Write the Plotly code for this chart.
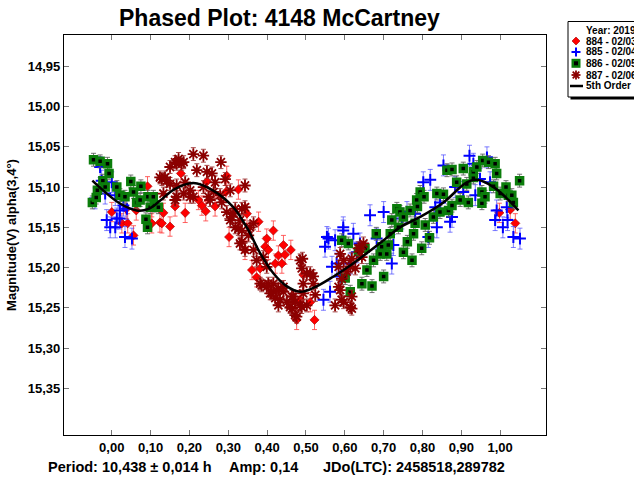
import plotly.graph_objects as go

# ---------------- data ----------------
phase_884 = [0.000, 0.026, 0.037, 0.041, 0.056, 0.063, 0.092, 0.103, 0.103, 0.124, 0.129, 0.133,
             0.150, 0.163, 0.178, 0.189, 0.223, 0.232, 0.242, 0.245, 0.266, 0.296, 0.294, 0.302,
             0.326, 0.343, 0.348, 0.361, 0.373, 0.378, 0.382, 0.395, 0.399, 0.403, 0.416, 0.421,
             0.429, 0.438, 0.442, 0.446, 0.461, 0.476, 0.485, 0.493, 0.511, 0.522, 0.998, 1.026, 1.039]
mag_884 = [15.131, 15.145, 15.127, 15.145, 15.160, 15.129, 15.099, 15.125, 15.145, 15.144, 15.145, 15.132,
           15.149, 15.124, 15.083, 15.132, 15.116, 15.123, 15.130, 15.093, 15.124, 15.086, 15.106, 15.162,
           15.103, 15.178, 15.133, 15.203, 15.212, 15.143, 15.201, 15.174, 15.164, 15.178, 15.154, 15.195,
           15.185, 15.195, 15.172, 15.184, 15.178, 15.265, 15.240, 15.209, 15.243, 15.265, 15.132, 15.128, 15.145]

phase_885 = [-0.043, -0.030, -0.026, -0.017, -0.013, -0.004, 0.000, 0.009, 0.009, 0.013, 0.020, 0.021,
             0.030, 0.034, 0.039, 0.052, 0.545, 0.549, 0.554, 0.558, 0.562, 0.567, 0.575, 0.579,
             0.588, 0.596, 0.596, 0.614, 0.622, 0.631, 0.639, 0.665, 0.682, 0.700, 0.721, 0.725,
             0.747, 0.760, 0.781, 0.802, 0.815, 0.820, 0.833, 0.837, 0.845, 0.854, 0.871, 0.876,
             0.884, 0.905, 0.921, 0.931, 0.936, 0.948, 0.966, 0.974, 0.987, 0.991, 1.007, 1.017,
             1.019, 1.034, 1.051]
mag_885 = [15.114, 15.075, 15.092, 15.108, 15.141, 15.150, 15.094, 15.110, 15.150, 15.139, 15.139, 15.129,
           15.123, 15.162, 15.127, 15.164, 15.240, 15.174, 15.162, 15.164, 15.230, 15.199, 15.166, 15.195,
           15.211, 15.154, 15.150, 15.195, 15.158, 15.181, 15.170, 15.135, 15.164, 15.131, 15.195, 15.172,
           15.139, 15.131, 15.133, 15.094, 15.162, 15.091, 15.125, 15.150, 15.119, 15.073, 15.143, 15.137,
           15.100, 15.106, 15.061, 15.071, 15.110, 15.090, 15.063, 15.094, 15.141, 15.129, 15.150, 15.125,
           15.141, 15.162, 15.164]

phase_886 = [-0.050, -0.047, -0.040, -0.037, -0.030, -0.023, -0.017, -0.011, -0.007, 0.013, 0.021, 0.034,
             0.049, 0.056, 0.064, 0.073, 0.075, 0.088, 0.092, 0.093, 0.099, 0.107, 0.110, 0.120,
             0.592, 0.601, 0.609, 0.614, 0.635, 0.644, 0.652, 0.657, 0.670, 0.674, 0.681, 0.691,
             0.695, 0.700, 0.708, 0.712, 0.717, 0.721, 0.734, 0.738, 0.742, 0.751, 0.751, 0.761,
             0.768, 0.773, 0.777, 0.781, 0.785, 0.787, 0.794, 0.798, 0.804, 0.807, 0.818, 0.828,
             0.837, 0.845, 0.854, 0.863, 0.867, 0.876, 0.876, 0.888, 0.897, 0.905, 0.914, 0.918,
             0.931, 0.931, 0.940, 0.953, 0.953, 0.955, 0.961, 0.970, 0.983, 0.987, 0.991, 1.000,
             1.015, 1.021, 1.030, 1.034, 1.050]
mag_886 = [15.119, 15.066, 15.113, 15.104, 15.068, 15.092, 15.100, 15.071, 15.083, 15.100, 15.110, 15.112,
           15.093, 15.106, 15.119, 15.116, 15.099, 15.140, 15.150, 15.112, 15.125, 15.112, 15.123, 15.125,
           15.166, 15.213, 15.170, 15.230, 15.180, 15.220, 15.176, 15.203, 15.223, 15.191, 15.158, 15.183,
           15.174, 15.211, 15.183, 15.172, 15.158, 15.141, 15.127, 15.150, 15.131, 15.181, 15.137, 15.168,
           15.129, 15.191, 15.158, 15.145, 15.116, 15.124, 15.106, 15.176, 15.112, 15.147, 15.163, 15.137,
           15.108, 15.131, 15.109, 15.079, 15.129, 15.078, 15.123, 15.094, 15.116, 15.077, 15.096, 15.119,
           15.088, 15.081, 15.075, 15.106, 15.120, 15.067, 15.112, 15.069, 15.099, 15.071, 15.083, 15.108,
           15.100, 15.110, 15.110, 15.119, 15.092]

phase_887 = [0.124, 0.129, 0.133, 0.137, 0.142, 0.150, 0.150, 0.163, 0.163, 0.167, 0.167, 0.167,
             0.172, 0.180, 0.185, 0.185, 0.189, 0.202, 0.202, 0.210, 0.210, 0.219, 0.236, 0.236,
             0.245, 0.249, 0.253, 0.258, 0.262, 0.266, 0.279, 0.281, 0.283, 0.292, 0.296, 0.305,
             0.305, 0.309, 0.313, 0.318, 0.318, 0.326, 0.330, 0.330, 0.335, 0.335, 0.335, 0.343,
             0.343, 0.343, 0.352, 0.356, 0.365, 0.365, 0.373, 0.382, 0.386, 0.390, 0.399, 0.399,
             0.403, 0.408, 0.412, 0.416, 0.421, 0.425, 0.429, 0.429, 0.433, 0.442, 0.442, 0.451,
             0.459, 0.464, 0.464, 0.468, 0.472, 0.472, 0.476, 0.485, 0.485, 0.489, 0.489, 0.491,
             0.493, 0.493, 0.502, 0.502, 0.511, 0.519, 0.519, 0.524, 0.575, 0.584, 0.584, 0.588,
             0.588, 0.592, 0.592, 0.597, 0.597, 0.605, 0.614, 0.614, 0.618, 0.618, 0.618, 0.627,
             0.635, 0.639, 0.644, 0.648]
mag_887 = [15.088, 15.090, 15.108, 15.088, 15.092, 15.075, 15.096, 15.069, 15.116, 15.071, 15.098, 15.112,
           15.065, 15.071, 15.069, 15.108, 15.094, 15.104, 15.112, 15.059, 15.112, 15.079, 15.061, 15.100,
           15.081, 15.112, 15.116, 15.083, 15.106, 15.094, 15.110, 15.069, 15.119, 15.090, 15.131, 15.104,
           15.141, 15.137, 15.133, 15.127, 15.150, 15.152, 15.141, 15.170, 15.127, 15.154, 15.168, 15.098,
           15.125, 15.178, 15.160, 15.150, 15.145, 15.178, 15.191, 15.220, 15.222, 15.187, 15.199, 15.224,
           15.220, 15.232, 15.232, 15.220, 15.238, 15.228, 15.226, 15.247, 15.240, 15.224, 15.230, 15.243,
           15.249, 15.236, 15.251, 15.236, 15.243, 15.259, 15.261, 15.191, 15.247, 15.201, 15.249, 15.189,
           15.220, 15.232, 15.207, 15.247, 15.207, 15.211, 15.220, 15.234, 15.247, 15.199, 15.224, 15.183,
           15.228, 15.214, 15.240, 15.191, 15.243, 15.205, 15.199, 15.249, 15.189, 15.236, 15.251, 15.201,
           15.176, 15.176, 15.187, 15.170]

err_884 = 0.012
err_885 = 0.013
err_886 = 0.008
err_887 = 0.008

fit_phase = [-0.050, -0.020, 0.020, 0.064, 0.095, 0.124, 0.160, 0.210, 0.260, 0.313, 0.350, 0.382,
             0.416, 0.450, 0.485, 0.520, 0.571, 0.615, 0.657, 0.700, 0.742, 0.794, 0.854, 0.914,
             0.940, 0.983, 1.015, 1.047]
fit_mag = [15.092, 15.105, 15.120, 15.129, 15.127, 15.117, 15.103, 15.095, 15.104, 15.125, 15.152, 15.182,
           15.207, 15.223, 15.230, 15.225, 15.211, 15.197, 15.182, 15.166, 15.150, 15.137, 15.119, 15.094,
           15.091, 15.100, 15.113, 15.129]

x_ticks = [0.0, 0.1, 0.2, 0.3, 0.4, 0.5, 0.6, 0.7, 0.8, 0.9, 1.0]
y_ticks = [14.95, 15.00, 15.05, 15.10, 15.15, 15.20, 15.25, 15.30, 15.35]

title_text = "Phased Plot: 4148 McCartney"
y_title = "Magnitude(V) alpha(3,4°)"
footer_parts = ["Period: 10,438 ± 0,014 h", "Amp: 0,14", "JDo(LTC): 2458518,289782"]
legend_title = "Year: 2019"
legend_labels = ["884 - 02/03", "885 - 02/04", "886 - 02/05", "887 - 02/06", "5th Order"]

# ---------------- layout geometry ----------------
W, H = 634, 478
ML, MR, MT, MB = 64, 88, 35, 43
PW, PH = W - ML - MR, H - MT - MB
FONT = "Liberation Sans, Arial, sans-serif"


def px(x):
    return (x - ML) / PW


def py(y):
    return (H - MB - y) / PH


fig = go.Figure()


def ebar(err, color):
    return dict(type="constant", value=err, color=color, thickness=1, width=2.5)


fig.add_trace(go.Scatter(
    x=phase_884, y=mag_884, mode="markers", name=legend_labels[0],
    marker=dict(symbol="diamond", size=7, color="#ff0000", line=dict(color="#a00000", width=0.6)),
    error_y=ebar(err_884, "rgba(255,70,70,0.85)")))
fig.add_trace(go.Scatter(
    x=phase_885, y=mag_885, mode="markers", name=legend_labels[1],
    marker=dict(symbol="cross-thin-open", size=8.5, color="#0000ff", line=dict(color="#0000ff", width=2)),
    error_y=ebar(err_885, "rgba(70,70,255,0.7)")))
fig.add_trace(go.Scatter(
    x=phase_886, y=mag_886, mode="markers", name=legend_labels[2],
    marker=dict(symbol="square", size=6.5, color="#000000", line=dict(color="#0b7d0b", width=3)),
    error_y=ebar(err_886, "rgba(90,90,90,0.85)")))
fig.add_trace(go.Scatter(
    x=phase_887, y=mag_887, mode="markers", name=legend_labels[3],
    marker=dict(symbol="asterisk-open", size=9.5, color="#8b0000", line=dict(color="#8b0000", width=1.8)),
    error_y=ebar(err_887, "rgba(150,40,40,0.85)")))
fig.add_trace(go.Scatter(
    x=fit_phase, y=fit_mag, mode="lines", name=legend_labels[4],
    line=dict(color="black", width=2.5, shape="spline", smoothing=1.0)))

axis_common = dict(showgrid=False, zeroline=False, showline=True, linecolor="black", linewidth=1.2,
                   mirror="ticks", ticks="inside", ticklen=5, tickcolor="#777777", tickwidth=1,
                   tickfont=dict(family=FONT, size=13, color="black", weight="bold"))

fig.update_xaxes(range=[-0.123, 1.118], tickvals=x_ticks, tickformat=".2f", **axis_common)
fig.update_yaxes(range=[15.408, 14.911], tickvals=y_ticks, tickformat=".2f",
                 title=dict(text=y_title, font=dict(family=FONT, size=13, color="black", weight="bold"),
                            standoff=8),
                 **axis_common)

annotations = [
    dict(text="<b>" + title_text + "</b>", x=px(279), y=py(18), xref="paper", yref="paper",
         xanchor="center", yanchor="middle", showarrow=False,
         font=dict(family=FONT, size=23, color="black")),
    dict(text="<b>" + legend_title + "</b>", x=px(585), y=py(30), xref="paper", yref="paper",
         xanchor="left", yanchor="middle", showarrow=False, borderpad=0,
         font=dict(family=FONT, size=10, color="black")),
]
for txt, xl in zip(footer_parts, [47, 228, 322]):
    annotations.append(dict(text="<b>" + txt + "</b>", x=px(xl), y=py(467), xref="paper", yref="paper",
                            xanchor="left", yanchor="middle", showarrow=False, borderpad=0,
                            font=dict(family=FONT, size=14.5, color="black")))

rows_y = [41, 52, 63.3, 75, 86]
for lab, yy in zip(legend_labels, rows_y):
    annotations.append(dict(text="<b>" + lab + "</b>", x=px(585), y=py(yy), xref="paper", yref="paper",
                            xanchor="left", yanchor="middle", showarrow=False, borderpad=0,
                            font=dict(family=FONT, size=10, color="black")))

# legend box with drop shadow
shapes = [
    dict(type="rect", xref="paper", yref="paper", x0=px(570.5), x1=px(645), y0=py(24), y1=py(99.5),
         fillcolor="black", line=dict(width=0)),
    dict(type="rect", xref="paper", yref="paper", x0=px(568), x1=px(642), y0=py(21.5), y1=py(97),
         fillcolor="white", line=dict(color="black", width=1)),
]


def pline(xa, ya, xb, yb, color, w):
    return dict(type="line", xref="paper", yref="paper", x0=px(xa), x1=px(xb), y0=py(ya), y1=py(yb),
                line=dict(color=color, width=w))


cx = 576
# diamond
r0 = rows_y[0]
shapes.append(dict(type="path", xref="paper", yref="paper",
                   path="M {a},{b} L {c},{d} L {e},{f} L {g},{h} Z".format(
                       a=px(cx), b=py(r0 - 4), c=px(cx + 4), d=py(r0), e=px(cx), f=py(r0 + 4), g=px(cx - 4), h=py(r0)),
                   fillcolor="#ff0000", line=dict(color="#a00000", width=0.6)))
# cross
r1 = rows_y[1]
shapes.append(pline(cx - 4.5, r1, cx + 4.5, r1, "#0000ff", 2))
shapes.append(pline(cx, r1 - 4.5, cx, r1 + 4.5, "#0000ff", 2))
# square
r2 = rows_y[2]
shapes.append(dict(type="rect", xref="paper", yref="paper", x0=px(cx - 4.5), x1=px(cx + 4.5),
                   y0=py(r2 - 4.5), y1=py(r2 + 4.5), fillcolor="#0b7d0b", line=dict(width=0)))
shapes.append(dict(type="rect", xref="paper", yref="paper", x0=px(cx - 2), x1=px(cx + 2),
                   y0=py(r2 - 2), y1=py(r2 + 2), fillcolor="black", line=dict(width=0)))
# asterisk
r3 = rows_y[3]
for dx, dy in [(4.5, 0), (0, 4.5), (3.3, 3.3), (3.3, -3.3)]:
    shapes.append(pline(cx - dx, r3 - dy, cx + dx, r3 + dy, "#8b0000", 1.8))
# fit line sample
shapes.append(pline(570, rows_y[4], 583, rows_y[4], "black", 2.5))

fig.update_layout(
    width=W, height=H,
    margin=dict(l=ML, r=MR, t=MT, b=MB, autoexpand=False),
    paper_bgcolor="white", plot_bgcolor="white",
    showlegend=False,
    separators=",.",
    annotations=annotations,
    shapes=shapes,
    font=dict(family=FONT, color="black"),
)

fig.write_html("out.html")
